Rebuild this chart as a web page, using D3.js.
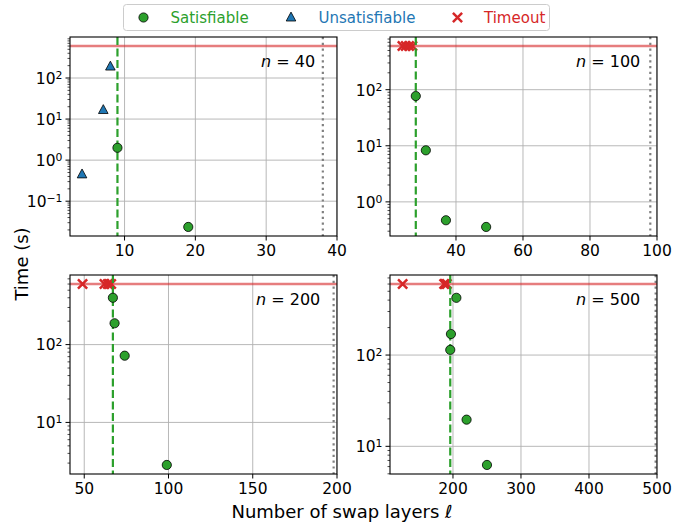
<!DOCTYPE html>
<html>
<head>
<meta charset="utf-8">
<script src="https://cdn.jsdelivr.net/npm/d3@7"></script>
<style>
  body { margin: 0; background: #fff; }
  svg { font-family: "DejaVu Sans", sans-serif; }
</style>
</head>
<body>
<svg id="chart" width="692" height="525"></svg>
<script>
"use strict";

// Data, one entry per panel (n = 40, 100, 200, 500)
var sizes = [40, 100, 200, 500];
var boundLayers = [38, 98, 198, 498];
var satLayers = [[9, 19], [28, 31, 37, 49], [67, 68, 74, 99], [196, 197, 205, 220, 250]];
var satTimes = [[2.0, 0.0236], [77, 8.3, 0.47, 0.357], [400, 188, 72, 2.84], [114, 170, 424, 19.6, 6.25]];
var unsatLayers = [[4, 7, 8], [], [], []];
var unsatTimes = [[0.45, 16.6, 190], [], [], []];
var timeoutLayers = [[], [24, 25, 26, 27], [49, 62, 64, 65, 66], [126, 187, 189, 191]];
var timeoutLimit = 600;
var xTicks = [[10, 20, 30, 40], [40, 60, 80, 100], [50, 100, 150, 200], [200, 300, 400, 500]];

var green = "#2ca02c", blue = "#1f77b4", red = "#d62728";

// Panel boxes
var colLeft = [70, 390], rowTop = [37, 275];
var panelW = 267, panelH = 199;
var tickFont = 15.5;
var crossPath = "M-4.6,-4.6L4.6,4.6M-4.6,4.6L4.6,-4.6";
var triPath = "M0,-5.4L4.8,3.5L-4.8,3.5Z";

var svg = d3.select("#chart");

sizes.forEach(function (n, i) {
  var left = colLeft[i % 2], top = rowTop[Math.floor(i / 2)];
  var g = svg.append("g").attr("transform", "translate(" + left + "," + top + ")");

  // x domain: matplotlib style 5% margin on the left, right limit fixed at n
  var allX = satLayers[i].concat(unsatLayers[i], timeoutLayers[i], [boundLayers[i]]);
  var xMin = d3.min(allX), xMax = d3.max(allX);
  var x = d3.scaleLinear()
    .domain([xMin - 0.05 * (xMax - xMin), n])
    .range([0, panelW]);

  // y domain: log scale, 5% margin in log space, top point is the timeout
  var allY = satTimes[i].concat(unsatTimes[i], [timeoutLimit]);
  var lo = Math.log10(d3.min(allY)), hi = Math.log10(d3.max(allY));
  var pad = 0.05 * (hi - lo);
  var y = d3.scaleLog()
    .domain([Math.pow(10, lo - pad), Math.pow(10, hi + pad)])
    .range([panelH, 0]);

  var decades = d3.range(Math.ceil(lo - pad), Math.floor(hi + pad) + 1);
  var minors = [];
  d3.range(Math.floor(lo - pad), Math.ceil(hi + pad)).forEach(function (d) {
    for (var k = 2; k < 10; k++) {
      var v = k * Math.pow(10, d);
      if (v >= y.domain()[0] && v <= y.domain()[1]) minors.push(v);
    }
  });

  var clip = "clip" + i;
  g.append("clipPath").attr("id", clip)
    .append("rect").attr("width", panelW).attr("height", panelH);
  var plot = g.append("g").attr("clip-path", "url(#" + clip + ")");

  // grid
  plot.selectAll(".vgrid").data(xTicks[i]).enter().append("line")
    .attr("x1", d => x(d)).attr("x2", d => x(d))
    .attr("y1", 0).attr("y2", panelH)
    .attr("stroke", "#b0b0b0").attr("stroke-width", 0.9);
  plot.selectAll(".hgrid").data(decades).enter().append("line")
    .attr("x1", 0).attr("x2", panelW)
    .attr("y1", d => y(Math.pow(10, d))).attr("y2", d => y(Math.pow(10, d)))
    .attr("stroke", "#b0b0b0").attr("stroke-width", 0.9);

  // timeout line and upper bound
  plot.append("line")
    .attr("x1", 0).attr("x2", panelW)
    .attr("y1", y(timeoutLimit)).attr("y2", y(timeoutLimit))
    .attr("stroke", red).attr("stroke-opacity", 0.6).attr("stroke-width", 2.4);
  plot.append("line")
    .attr("x1", x(boundLayers[i])).attr("x2", x(boundLayers[i]))
    .attr("y1", 0).attr("y2", panelH)
    .attr("stroke", "#808080").attr("stroke-width", 2.2)
    .attr("stroke-dasharray", "2.2,3.6");

  // timeouts
  plot.selectAll(".cross").data(timeoutLayers[i]).enter().append("path")
    .attr("transform", d => "translate(" + x(d) + "," + y(timeoutLimit) + ")")
    .attr("d", crossPath)
    .attr("stroke", red).attr("stroke-width", 2.5).attr("fill", "none");

  // smallest satisfiable depth
  var best = d3.min(satLayers[i]);
  plot.append("line")
    .attr("x1", x(best)).attr("x2", x(best))
    .attr("y1", 0).attr("y2", panelH)
    .attr("stroke", green).attr("stroke-width", 2.2)
    .attr("stroke-dasharray", "8,3.5");

  // satisfiable and unsatisfiable runs
  plot.selectAll(".sat").data(satLayers[i]).enter().append("circle")
    .attr("cx", d => x(d)).attr("cy", (d, j) => y(satTimes[i][j]))
    .attr("r", 4.6)
    .attr("fill", green).attr("stroke", "#000").attr("stroke-width", 0.8);
  plot.selectAll(".unsat").data(unsatLayers[i]).enter().append("path")
    .attr("transform", (d, j) => "translate(" + x(d) + "," + y(unsatTimes[i][j]) + ")")
    .attr("d", triPath)
    .attr("fill", blue).attr("stroke", "#000").attr("stroke-width", 0.8);

  // frame
  g.append("rect").attr("width", panelW).attr("height", panelH)
    .attr("fill", "none").attr("stroke", "#000").attr("stroke-width", 1.1);

  // x axis ticks
  var xt = g.selectAll(".xt").data(xTicks[i]).enter().append("g")
    .attr("transform", d => "translate(" + x(d) + "," + panelH + ")");
  xt.append("line").attr("y2", 4.5).attr("stroke", "#000").attr("stroke-width", 1);
  xt.append("text").attr("y", 8.5).attr("dy", "0.76em")
    .attr("text-anchor", "middle").attr("font-size", tickFont)
    .text(d => d);

  // y axis ticks
  g.selectAll(".ymin").data(minors).enter().append("line")
    .attr("x1", -2.5).attr("x2", 0)
    .attr("y1", d => y(d)).attr("y2", d => y(d))
    .attr("stroke", "#000").attr("stroke-width", 0.7);
  var yt = g.selectAll(".yt").data(decades).enter().append("g")
    .attr("transform", d => "translate(0," + y(Math.pow(10, d)) + ")");
  yt.append("line").attr("x1", -4.5).attr("stroke", "#000").attr("stroke-width", 1);
  var lab = yt.append("text").attr("x", -7.5).attr("dy", "0.38em")
    .attr("text-anchor", "end").attr("font-size", tickFont);
  lab.append("tspan").text("10");
  lab.append("tspan").attr("dy", "-0.45em").attr("font-size", tickFont * 0.7)
    .text(d => String(d).replace("-", "\u2212"));

  // panel label
  var ann = g.append("text")
    .attr("x", 0.817 * panelW).attr("y", 30)
    .attr("text-anchor", "middle").attr("font-size", 16);
  ann.append("tspan").attr("font-style", "italic").text("n");
  ann.append("tspan").text(" = " + n);
});

// axis labels
svg.append("text")
  .attr("transform", "translate(28,264) rotate(-90)")
  .attr("text-anchor", "middle").attr("font-size", 18)
  .text("Time (s)");
svg.append("text")
  .attr("x", 342).attr("y", 518)
  .attr("text-anchor", "middle").attr("font-size", 18)
  .text("Number of swap layers \u2113");

// legend
var legend = svg.append("g");
legend.append("rect")
  .attr("x", 123.5).attr("y", 4.5).attr("width", 426).attr("height", 26).attr("rx", 3)
  .attr("fill", "#fff").attr("fill-opacity", 0.8)
  .attr("stroke", "#cccccc").attr("stroke-width", 1);
var legendCy = 17.5;
legend.append("circle").attr("cx", 143.5).attr("cy", legendCy).attr("r", 4.6)
  .attr("fill", green).attr("stroke", "#000").attr("stroke-width", 0.8);
legend.append("path").attr("transform", "translate(291," + legendCy + ")")
  .attr("d", triPath)
  .attr("fill", blue).attr("stroke", "#000").attr("stroke-width", 0.8);
legend.append("path").attr("transform", "translate(457.5," + legendCy + ")")
  .attr("d", crossPath)
  .attr("stroke", red).attr("stroke-width", 2.5).attr("fill", "none");
var legendItems = [["Satisfiable", 170.5, green], ["Unsatisfiable", 318.5, blue], ["Timeout", 484, red]];
legend.selectAll(".lt").data(legendItems).enter().append("text")
  .attr("x", d => d[1]).attr("y", legendCy).attr("dy", "0.36em")
  .attr("font-size", 15).attr("fill", d => d[2])
  .text(d => d[0]);
</script>
</body>
</html>
